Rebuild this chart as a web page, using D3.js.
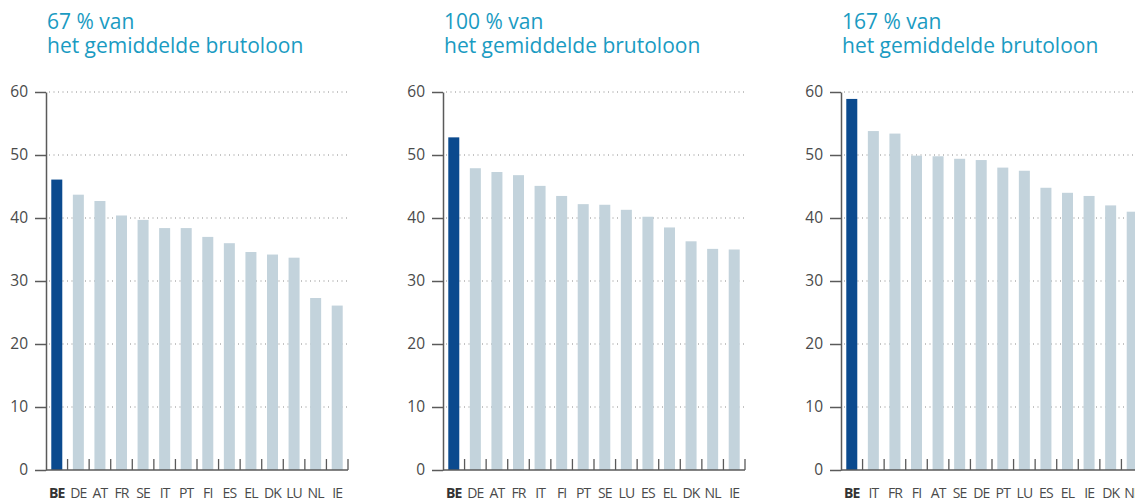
<!DOCTYPE html>
<html>
<head>
<meta charset="utf-8">
<script src="https://cdn.jsdelivr.net/npm/d3@7"></script>
<style>
  body { margin: 0; background: #fff; }
  svg { display: block; font-family: "Open Sans", sans-serif; }
</style>
</head>
<body>
<div id="chart"></div>
<script>
// data
const titles = ["67 % van", "100 % van", "167 % van"];
const subtitle = "het gemiddelde brutoloon";

const countries67 = ["BE", "DE", "AT", "FR", "SE", "IT", "PT", "FI", "ES", "EL", "DK", "LU", "NL", "IE"];
const values67 = [46.1, 43.7, 42.7, 40.4, 39.7, 38.4, 38.4, 37.0, 36.0, 34.6, 34.2, 33.7, 27.3, 26.1];

const countries100 = ["BE", "DE", "AT", "FR", "IT", "FI", "PT", "SE", "LU", "ES", "EL", "DK", "NL", "IE"];
const values100 = [52.8, 47.9, 47.3, 46.8, 45.1, 43.5, 42.2, 42.1, 41.3, 40.2, 38.5, 36.3, 35.1, 35.0];

const countries167 = ["BE", "IT", "FR", "FI", "AT", "SE", "DE", "PT", "LU", "ES", "EL", "IE", "DK", "NL"];
const values167 = [58.9, 53.8, 53.4, 49.9, 49.8, 49.4, 49.2, 48.0, 47.5, 44.8, 44.0, 43.5, 42.0, 41.0];

const yTicks = [0, 10, 20, 30, 40, 50, 60];

const panels = [
    { title: titles[0], cats: countries67, vals: values67, x0: 46 },
    { title: titles[1], cats: countries100, vals: values100, x0: 443 },
    { title: titles[2], cats: countries167, vals: values167, x0: 841 }
];

const W = 1135, H = 503;
const plotW = 302;

const svg = d3.select("#chart")
    .append("svg")
    .attr("width", W)
    .attr("height", H);

const yScale = d3.scaleLinear()
    .domain([0, 60])
    .range([470, 92]);

const axisColor = "#5a5a5a";

for (const p of panels) {

    const g = svg.append("g");

    const xScale = d3.scaleBand()
        .domain(p.cats)
        .range([p.x0, p.x0 + plotW])
        .paddingInner(0.49)
        .paddingOuter(0.245);

    const step = xScale.step();

    // title, two lines
    g.append("text")
        .attr("x", p.x0 + 1)
        .attr("y", 29)
        .attr("fill", "#1a9bc2")
        .attr("font-size", "21px")
        .text(p.title);
    g.append("text")
        .attr("x", p.x0 + 1)
        .attr("y", 53)
        .attr("fill", "#1a9bc2")
        .attr("font-size", "21px")
        .text(subtitle);

    // dotted gridlines
    g.append("g")
        .selectAll("line")
        .data(yTicks.filter(d => d > 0))
        .enter()
        .append("line")
        .attr("x1", p.x0 + 3)
        .attr("x2", p.x0 + plotW)
        .attr("y1", d => yScale(d))
        .attr("y2", d => yScale(d))
        .attr("stroke", "#8a8a8a")
        .attr("stroke-width", 1)
        .attr("stroke-dasharray", "1,3.5");

    // bars
    g.append("g")
        .selectAll("rect")
        .data(p.vals)
        .enter()
        .append("rect")
        .attr("x", (d, i) => xScale(p.cats[i]))
        .attr("y", d => yScale(d))
        .attr("width", xScale.bandwidth())
        .attr("height", d => yScale(0) - yScale(d))
        .attr("fill", (d, i) => p.cats[i] == "BE" ? "#0b4a8e" : "#c3d3dc");

    // y axis
    const yAxis = d3.axisLeft(yScale)
        .tickValues(yTicks)
        .tickSize(11)
        .tickPadding(7)
        .tickSizeOuter(0);

    const ya = g.append("g")
        .attr("transform", `translate(${p.x0}, 0)`)
        .call(yAxis);
    ya.select(".domain").attr("stroke", axisColor).attr("stroke-width", 1.5);
    ya.selectAll(".tick line").attr("stroke", axisColor).attr("stroke-width", 1.5);
    ya.selectAll(".tick text")
        .attr("fill", "#4a4a4a")
        .attr("font-size", "15.5px")
        .attr("font-family", "Open Sans, sans-serif");

    // x axis line
    g.append("line")
        .attr("x1", p.x0)
        .attr("x2", p.x0 + plotW)
        .attr("y1", yScale(0))
        .attr("y2", yScale(0))
        .attr("stroke", axisColor)
        .attr("stroke-width", 1.5);

    // upward ticks between the bars
    g.append("g")
        .selectAll("line")
        .data(p.cats.slice(1).concat(["end"]))
        .enter()
        .append("line")
        .attr("x1", d => d == "end" ? p.x0 + plotW : xScale(d) - step * 0.245)
        .attr("x2", d => d == "end" ? p.x0 + plotW : xScale(d) - step * 0.245)
        .attr("y1", yScale(0))
        .attr("y2", yScale(0) - 11)
        .attr("stroke", axisColor)
        .attr("stroke-width", 1.3);

    // category labels
    g.append("g")
        .selectAll("text")
        .data(p.cats)
        .enter()
        .append("text")
        .attr("x", d => xScale(d) + xScale.bandwidth() / 2)
        .attr("y", 498)
        .attr("text-anchor", "middle")
        .attr("font-size", "14px")
        .attr("letter-spacing", "-0.9px")
        .attr("font-weight", d => d == "BE" ? "bold" : "normal")
        .attr("fill", d => d == "BE" ? "#333" : "#4a4a4a")
        .text(d => d);
}
</script>
</body>
</html>
